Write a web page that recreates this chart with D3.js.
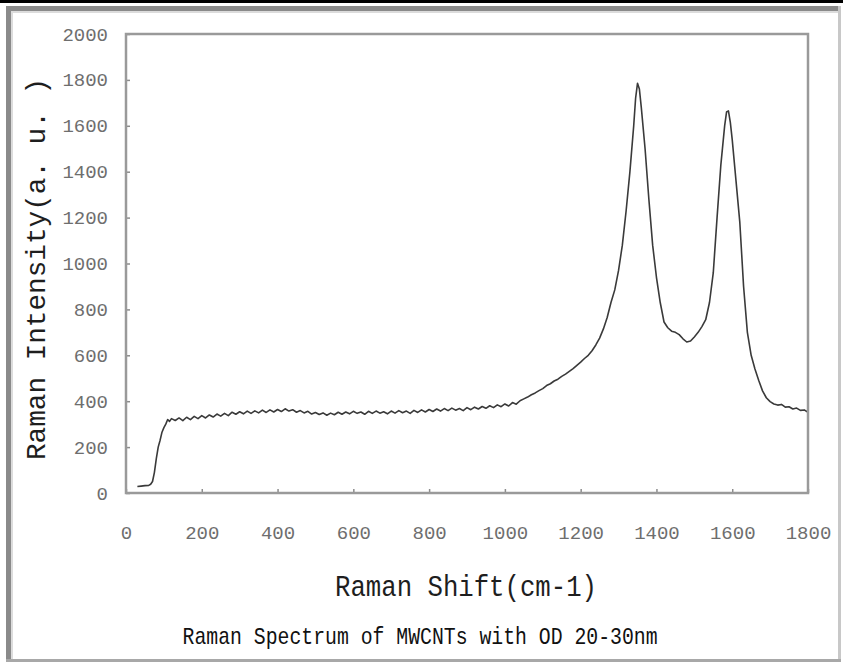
<!DOCTYPE html>
<html>
<head>
<meta charset="utf-8">
<script src="https://cdn.jsdelivr.net/npm/d3@7"></script>
<style>
  html, body { margin: 0; padding: 0; background: #fff; }
  svg { display: block; }
</style>
</head>
<body>
<svg id="chart"></svg>
<script>
// Raman spectrum (cm-1 vs a.u.)
const ramanShift = [
  30, 40, 50, 60, 65, 70, 75, 80, 85, 90, 95, 100, 105, 110, 115, 120,
  130, 140, 150, 160, 170, 180, 190, 200, 210, 220, 230, 240, 250, 260, 270, 280, 290,
  300, 310, 320, 330, 340, 350, 360, 370, 380, 390, 400, 410, 420, 430, 440, 450,
  460, 470, 480, 490, 500, 510, 520, 530, 540, 550, 560, 570, 580, 590, 600,
  610, 620, 630, 640, 650, 660, 670, 680, 690, 700, 710, 720, 730, 740, 750,
  760, 770, 780, 790, 800, 810, 820, 830, 840, 850, 860, 870, 880, 890, 900,
  910, 920, 930, 940, 950, 960, 970, 980, 990, 1000, 1010, 1020, 1030, 1040, 1050,
  1060, 1070, 1080, 1090, 1100, 1110, 1120, 1130, 1140, 1150, 1160, 1170, 1180, 1190, 1200,
  1210, 1220, 1230, 1240, 1250, 1260, 1270, 1280, 1290, 1300, 1310, 1320, 1330, 1340, 1345,
  1350, 1355, 1360, 1370, 1380, 1390, 1400, 1410, 1420, 1430, 1440, 1450, 1460, 1470, 1480,
  1490, 1500, 1510, 1520, 1530, 1540, 1550, 1560, 1570, 1580, 1585, 1590, 1595, 1600, 1610,
  1620, 1630, 1640, 1650, 1660, 1670, 1680, 1690, 1700, 1710, 1720, 1730, 1740, 1750, 1760,
  1770, 1780, 1790, 1800
];
const intensity = [
  28, 30, 32, 33, 38, 50, 90, 150, 200, 230, 265, 285, 300, 320, 312, 324,
  316, 327, 315, 330, 320, 334, 324, 337, 327, 340, 331, 344, 335, 347, 337, 352, 343,
  354, 345, 357, 347, 358, 349, 361, 351, 362, 353, 364, 355, 367, 357, 363, 352,
  359, 349, 356, 344, 351, 342, 349, 339, 348, 341, 352, 343, 353, 345, 356,
  347, 353, 343, 356, 347, 357, 348, 354, 345, 357, 348, 359, 350, 357, 347,
  360, 351, 362, 353, 364, 355, 366, 357, 368, 359, 370, 361, 368, 359, 372,
  363, 374, 366, 377, 369, 380, 372, 384, 376, 388, 379, 394, 387, 402, 410,
  418, 428, 436, 446, 455, 468, 476, 488, 496, 508, 518, 530, 542, 556, 570,
  586, 600, 620, 645, 675, 715, 765, 830, 885, 970, 1080, 1230, 1400, 1600, 1720,
  1785, 1760, 1680, 1500, 1280, 1080, 940, 830, 745, 720, 705, 700, 690, 672, 658,
  662, 680, 700, 725, 755, 830, 960, 1200, 1430, 1600, 1660, 1665, 1615, 1540, 1360,
  1180, 900, 700, 600, 540, 490, 445, 415, 398, 388, 383, 386, 374, 376, 366,
  370, 360, 362, 352
];
const xTicks = [0, 200, 400, 600, 800, 1000, 1200, 1400, 1600, 1800];
const yTicks = [0, 200, 400, 600, 800, 1000, 1200, 1400, 1600, 1800, 2000];

const width = 843, height = 664;
const margin = { top: 34, right: 35, bottom: 171, left: 126 };
const fontMono = '"Liberation Mono", "DejaVu Sans Mono", monospace';

const svg = d3.select('#chart').attr('width', width).attr('height', height);

// Outer picture frame
svg.append('rect').attr('x', 0).attr('y', 0).attr('width', width).attr('height', height).attr('fill', '#fff');
svg.append('rect').attr('x', 0).attr('y', 0).attr('width', width).attr('height', 3).attr('fill', '#000');
svg.append('rect').attr('x', 6).attr('y', 6).attr('width', 834).attr('height', 5).attr('fill', '#8a8a8a');
svg.append('rect').attr('x', 6).attr('y', 6).attr('width', 5).attr('height', 656).attr('fill', '#8a8a8a');
svg.append('rect').attr('x', 11).attr('y', 11).attr('width', 829).attr('height', 2).attr('fill', '#dcdcdc');
svg.append('rect').attr('x', 11).attr('y', 11).attr('width', 2).attr('height', 651).attr('fill', '#dcdcdc');
svg.append('rect').attr('x', 838).attr('y', 6).attr('width', 3).attr('height', 656).attr('fill', '#c8c8c8');
svg.append('rect').attr('x', 6).attr('y', 659).attr('width', 835).attr('height', 3).attr('fill', '#a8a8a8');

const plotW = width - margin.left - margin.right;
const plotH = height - margin.top - margin.bottom;

const x = d3.scaleLinear().domain([0, 1800]).range([margin.left, margin.left + plotW]);
const y = d3.scaleLinear().domain([0, 2000]).range([margin.top + plotH, margin.top]);

const g = svg.append('g');

// Axes with inward ticks, plain integer labels
const xAxis = d3.axisBottom(x).tickValues(xTicks).tickSize(-4).tickPadding(33).tickFormat(d3.format('d'));
const yAxis = d3.axisLeft(y).tickValues(yTicks).tickSize(-4).tickPadding(18).tickFormat(d3.format('d'));

const gx = g.append('g').attr('transform', `translate(0,${margin.top + plotH})`).call(xAxis);
const gy = g.append('g').attr('transform', `translate(${margin.left},0)`).call(yAxis);

[gx, gy].forEach(a => {
  a.select('.domain').remove();
  a.selectAll('.tick line').attr('stroke', '#8c8c8c').attr('stroke-width', 1.5);
  a.selectAll('.tick text')
    .attr('fill', '#6e6e6e').attr('font-family', fontMono).attr('font-size', '19px');
});

// Spectrum line
const points = ramanShift.map((s, i) => [s, intensity[i]]);
const line = d3.line().x(d => x(d[0])).y(d => y(d[1]));
g.append('path')
  .datum(points)
  .attr('d', line)
  .attr('fill', 'none')
  .attr('stroke', '#3a3a3a')
  .attr('stroke-width', 1.6)
  .attr('stroke-linejoin', 'round');

// Plot frame
g.append('rect')
  .attr('x', margin.left).attr('y', margin.top)
  .attr('width', plotW).attr('height', plotH)
  .attr('fill', 'none').attr('stroke', '#9a9a9a').attr('stroke-width', 2.5);

// Axis titles
g.append('text')
  .attr('x', 466).attr('y', 596)
  .attr('text-anchor', 'middle')
  .attr('font-family', fontMono).attr('font-size', '29px').attr('fill', '#1e1e1e')
  .attr('textLength', 262).attr('lengthAdjust', 'spacingAndGlyphs')
  .text('Raman Shift(cm-1)');

g.append('text')
  .attr('transform', 'translate(45,269) rotate(-90)')
  .attr('text-anchor', 'middle')
  .attr('font-family', fontMono).attr('font-size', '28px').attr('fill', '#1e1e1e')
  .attr('textLength', 382).attr('lengthAdjust', 'spacingAndGlyphs')
  .text('Raman Intensity(a. u. )');

// Caption
g.append('text')
  .attr('x', 420).attr('y', 644)
  .attr('text-anchor', 'middle')
  .attr('font-family', fontMono).attr('font-size', '24px').attr('fill', '#111')
  .attr('textLength', 475).attr('lengthAdjust', 'spacingAndGlyphs')
  .text('Raman Spectrum of MWCNTs with OD 20-30nm');
</script>
</body>
</html>
